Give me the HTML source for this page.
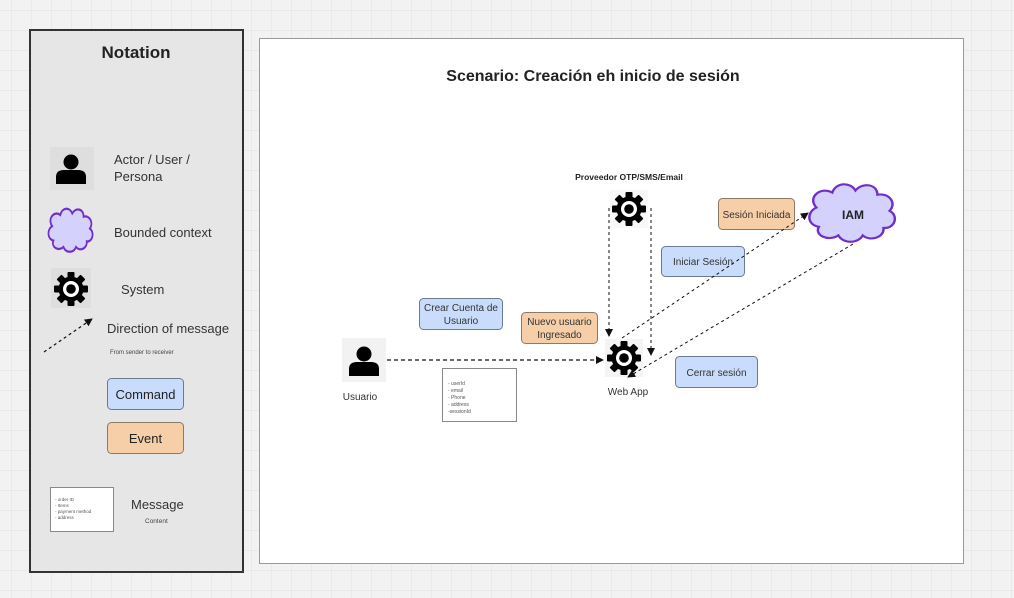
<!DOCTYPE html>
<html><head><meta charset="utf-8"><style>
html,body{margin:0;padding:0;width:1014px;height:598px;overflow:hidden;background:#f2f2f2;}
svg{display:block;font-family:"Liberation Sans","DejaVu Sans",sans-serif;}
</style></head><body>
<svg width="1014" height="598" viewBox="0 0 1014 598" xmlns="http://www.w3.org/2000/svg">
<defs>
<pattern id="grid" width="20" height="20" patternUnits="userSpaceOnUse" x="11" y="10">
<path d="M0 0H20M0 0V20" stroke="#e4e4e4" stroke-width="1.2" fill="none"/>
</pattern>
<marker id="ah" markerWidth="8" markerHeight="8" refX="7" refY="4" orient="auto" markerUnits="userSpaceOnUse">
<path d="M0,0 L8,4 L0,8 z" fill="#111"/>
</marker>
<g id="gear">
<g fill="#000">
<circle r="12.5"/>
<rect x="-3.5" y="-17" width="7" height="34" rx="1"/>
<rect x="-3.5" y="-17" width="7" height="34" rx="1" transform="rotate(45)"/>
<rect x="-3.5" y="-17" width="7" height="34" rx="1" transform="rotate(90)"/>
<rect x="-3.5" y="-17" width="7" height="34" rx="1" transform="rotate(135)"/>
</g>
<circle r="8" fill="#fff"/>
<circle r="4.8" fill="#000"/>
</g>
<g id="person" fill="#000">
<circle cx="0" cy="-7" r="7.5"/>
<path d="M-15,15 L-15,8 Q-15,1 -7,1 L7,1 Q15,1 15,8 L15,15 Z"/>
</g>
<path id="cloud" d="M-30,-6 C-38,-16 -26,-26 -17,-20 C-14,-30 -2,-30 2,-22 C8,-30 20,-28 20,-18 C30,-20 36,-10 30,-3 C38,2 34,14 25,13 C26,22 14,26 8,20 C4,28 -8,28 -12,20 C-20,26 -32,20 -28,12 C-38,10 -38,-2 -30,-6 Z"/>
</defs>
<rect width="1014" height="598" fill="url(#grid)"/>

<!-- Notation panel -->
<rect x="30" y="30" width="213" height="542" fill="#e6e6e6" stroke="#333" stroke-width="2"/>
<text x="136" y="58" text-anchor="middle" font-size="17" font-weight="bold" fill="#222">Notation</text>
<rect x="50" y="147" width="44" height="43" fill="#dedede"/>
<use href="#person" x="71" y="169"/>
<text x="114" y="164" font-size="13" fill="#333">Actor / User /</text>
<text x="114" y="181" font-size="13" fill="#333">Persona</text>
<use href="#cloud" transform="translate(71,231) scale(0.63,0.8)" fill="#d4d2fd" stroke="#7030c8" stroke-width="2.8"/>
<text x="114" y="237" font-size="13" fill="#333">Bounded context</text>
<rect x="51" y="268" width="40" height="40" fill="#dedede"/>
<use href="#gear" x="71" y="289"/>
<text x="121" y="294" font-size="13" fill="#333">System</text>
<line x1="44" y1="352" x2="92" y2="319" stroke="#111" stroke-width="1.2" stroke-dasharray="3,3" marker-end="url(#ah)"/>
<text x="107" y="333" font-size="13" fill="#333">Direction of message</text>
<text x="110" y="354" font-size="6" fill="#444">From sender to receiver</text>
<rect x="107.5" y="378.5" width="76" height="31" rx="4" fill="#c9dcfb" stroke="#6b7a90"/>
<text x="145.5" y="399" text-anchor="middle" font-size="13" fill="#222">Command</text>
<rect x="107.5" y="422.5" width="76" height="31" rx="4" fill="#f6cfa9" stroke="#8c7a68"/>
<text x="145.5" y="443" text-anchor="middle" font-size="13" fill="#222">Event</text>
<rect x="50.5" y="487.5" width="63" height="44" fill="#fff" stroke="#888"/>
<g font-size="4.5" fill="#555"><text x="55" y="501">- order ID</text><text x="55" y="507">- Items</text><text x="55" y="513">- payment method</text><text x="55" y="519">- address</text></g>
<text x="131" y="509" font-size="13" fill="#333">Message</text>
<text x="145" y="523" font-size="6.5" fill="#444">Content</text>

<!-- Main canvas -->
<rect x="259.5" y="38.5" width="704" height="525" fill="#fff" stroke="#999"/>
<text x="593" y="81" text-anchor="middle" font-size="16" font-weight="bold" fill="#222">Scenario: Creación  eh inicio de sesión</text>

<rect x="342" y="338" width="44" height="44" fill="#f2f2f2"/>
<use href="#person" x="364" y="361"/>
<text x="360" y="400" text-anchor="middle" font-size="10" fill="#333">Usuario</text>

<rect x="419.5" y="298.5" width="83" height="31" rx="4" fill="#c9dcfb" stroke="#6b7a90"/>
<text x="461" y="311" text-anchor="middle" font-size="10" fill="#333">Crear Cuenta de</text>
<text x="461" y="324" text-anchor="middle" font-size="10" fill="#333">Usuario</text>
<rect x="521.5" y="312.5" width="76" height="31" rx="4" fill="#f6cfa9" stroke="#8c7a68"/>
<text x="559.5" y="325" text-anchor="middle" font-size="10" fill="#333">Nuevo usuario</text>
<text x="559.5" y="338" text-anchor="middle" font-size="10" fill="#333">Ingresado</text>
<rect x="442.5" y="368.5" width="74" height="53" fill="#fff" stroke="#888"/>
<g font-size="5" fill="#555"><text x="448" y="385">- userId</text><text x="448" y="392">- email</text><text x="448" y="399">- Phone</text><text x="448" y="406">- address</text><text x="448" y="413">-sessionId</text></g>

<line x1="387" y1="360" x2="603" y2="360" stroke="#111" stroke-width="1.2" stroke-dasharray="4,3" marker-end="url(#ah)"/>

<rect x="605" y="339" width="38" height="38" fill="#f4f4f4"/>
<use href="#gear" x="624" y="358"/>
<text x="628" y="395" text-anchor="middle" font-size="10" fill="#333">Web App</text>

<text x="629" y="180" text-anchor="middle" font-size="8.5" font-weight="bold" fill="#222">Proveedor OTP/SMS/Email</text>
<rect x="610" y="190" width="38" height="38" fill="#f8f8f8"/>
<use href="#gear" x="629" y="209"/>
<line x1="609" y1="208" x2="609" y2="336" stroke="#111" stroke-width="1" stroke-dasharray="3,3" marker-end="url(#ah)"/>
<line x1="651" y1="208" x2="651" y2="355" stroke="#111" stroke-width="1" stroke-dasharray="3,3" marker-end="url(#ah)"/>

<rect x="718.5" y="198.5" width="76" height="31" rx="4" fill="#f6cfa9" stroke="#8c7a68"/>
<text x="756.5" y="218" text-anchor="middle" font-size="10" fill="#333">Sesión Iniciada</text>
<rect x="661.5" y="246.5" width="83" height="30" rx="4" fill="#c9dcfb" stroke="#6b7a90"/>
<text x="703" y="265" text-anchor="middle" font-size="10" fill="#333">Iniciar Sesión</text>
<rect x="675.5" y="356.5" width="82" height="31" rx="4" fill="#c9dcfb" stroke="#6b7a90"/>
<text x="716.5" y="376" text-anchor="middle" font-size="10" fill="#333">Cerrar sesión</text>

<use href="#cloud" transform="translate(853,214) scale(1.22,1.07)" fill="#d4d2fd" stroke="#7030c8" stroke-width="2"/>
<text x="853" y="219" text-anchor="middle" font-size="12" font-weight="bold" fill="#222">IAM</text>

<line x1="622" y1="338" x2="808" y2="213" stroke="#111" stroke-width="1" stroke-dasharray="3,3" marker-end="url(#ah)"/>
<line x1="853" y1="244" x2="628" y2="377" stroke="#111" stroke-width="1" stroke-dasharray="3,3" marker-end="url(#ah)"/>
</svg>
</body></html>
